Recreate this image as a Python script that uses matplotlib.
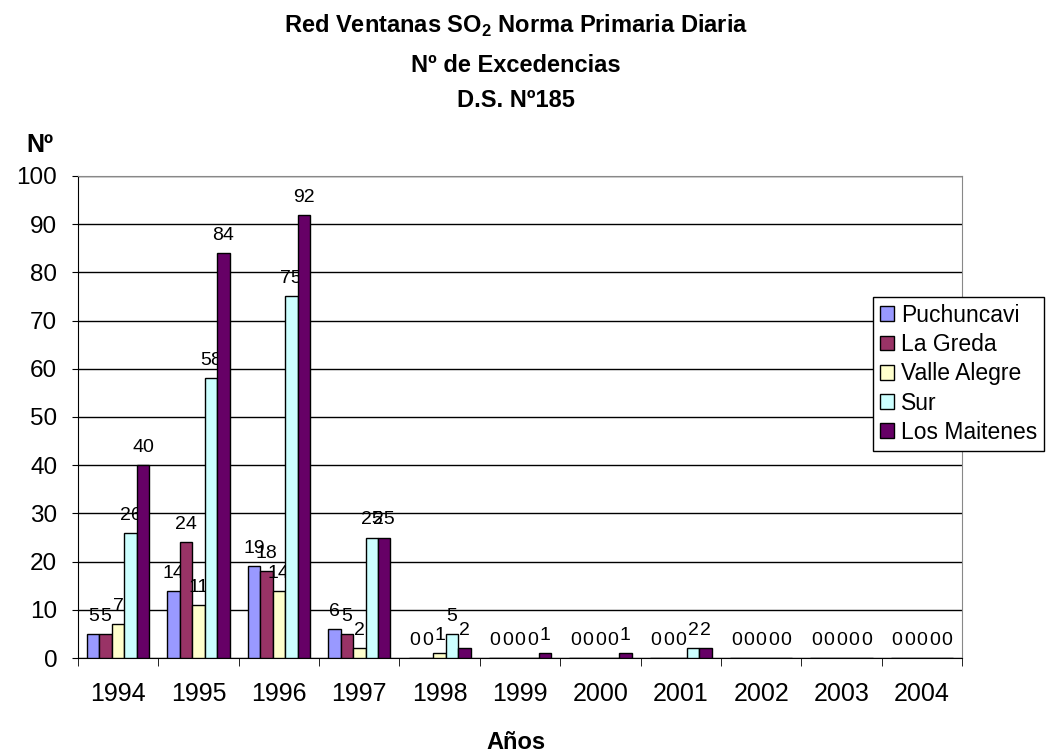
import matplotlib.pyplot as plt
import numpy as np

plt.rcParams['font.family'] = ['Liberation Sans', 'DejaVu Sans']
plt.rcParams['mathtext.fontset'] = 'custom'
plt.rcParams['mathtext.rm'] = 'Liberation Sans'
plt.rcParams['mathtext.bf'] = 'Liberation Sans:bold'

years = ['1994', '1995', '1996', '1997', '1998', '1999', '2000', '2001', '2002', '2003', '2004']
estaciones = ['Puchuncavi', 'La Greda', 'Valle Alegre', 'Sur', 'Los Maitenes']
puchuncavi = [5, 14, 19, 6, 0, 0, 0, 0, 0, 0, 0]
la_greda = [5, 24, 18, 5, 0, 0, 0, 0, 0, 0, 0]
valle_alegre = [7, 11, 14, 2, 1, 0, 0, 0, 0, 0, 0]
sur = [26, 58, 75, 25, 5, 0, 0, 2, 0, 0, 0]
los_maitenes = [40, 84, 92, 25, 2, 1, 1, 2, 0, 0, 0]
colores = ['#9999FF', '#993366', '#FFFFCC', '#CCFFFF', '#660066']

series = [puchuncavi, la_greda, valle_alegre, sur, los_maitenes]

fig = plt.figure(figsize=(10.48, 7.54), dpi=100)
ax = fig.add_axes([0.0744, 0.1273, 0.8436, 0.6393])

x = np.arange(len(years))
w = 0.155
for k, (vals, nombre, c) in enumerate(zip(series, estaciones, colores)):
    bars = ax.bar(x + (k - 2) * w, vals, w, color=c, edgecolor='black',
                  linewidth=1, label=nombre, zorder=3)
    ax.bar_label(bars, labels=[str(v) for v in vals], padding=6.5, fontsize=14)

ax.set_ylim(0, 100)
ax.set_xlim(-0.5, len(years) - 0.5)
ax.set_yticks(range(0, 101, 10))
ax.tick_params(axis='y', labelsize=17.5, length=4.5, pad=10.5, direction='out')
ax.set_xticks(x)
ax.set_xticklabels(years, fontsize=18)
ax.set_xticks(np.arange(len(years) + 1) - 0.5, minor=True)
ax.tick_params(axis='x', which='major', length=0, pad=17)
ax.tick_params(axis='x', which='minor', length=6)
ax.grid(axis='y', color='black', linewidth=1, zorder=0)
ax.spines['top'].set_color('#888888')
ax.spines['right'].set_color('#888888')

fig.text(0.492, 0.956, r'Red Ventanas SO$_\mathbf{2}$ Norma Primaria Diaria', ha='center',
         va='baseline', fontsize=17, fontweight='bold')
fig.text(0.492, 0.9045, 'Nº de Excedencias', ha='center', va='baseline', fontsize=17, fontweight='bold')
fig.text(0.492, 0.858, 'D.S. Nº185', ha='center', va='baseline', fontsize=17, fontweight='bold')
fig.text(0.038, 0.798, 'Nº', ha='center', va='baseline', fontsize=18, fontweight='bold')
fig.text(0.492, 0.006, 'Años', ha='center', va='baseline', fontsize=17, fontweight='bold')

leg = fig.legend(loc='upper left', bbox_to_anchor=(0.833, 0.606), fontsize=16.5,
                 frameon=True, fancybox=False, edgecolor='black', framealpha=1,
                 handlelength=0.62, handleheight=0.62, handletextpad=0.3,
                 labelspacing=0.27, borderpad=0.3, borderaxespad=0)
leg.get_frame().set_linewidth(1)

fig.savefig('out.png', dpi=100)
